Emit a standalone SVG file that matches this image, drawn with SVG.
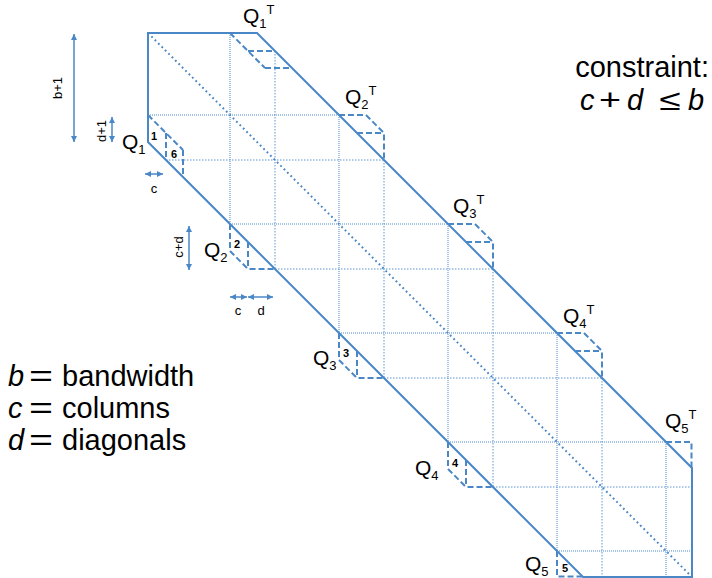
<svg xmlns="http://www.w3.org/2000/svg" width="712" height="578" viewBox="0 0 712 578">
<defs>
<marker id="ah" viewBox="0 0 6 6" refX="6" refY="3" markerWidth="6" markerHeight="6" markerUnits="userSpaceOnUse" orient="auto-start-reverse"><path d="M0,0 L6,3 L0,6 z" fill="#4a87c7"/></marker>
</defs>
<style>
.band{fill:none;stroke:#4a87c7;stroke-width:2;stroke-linejoin:miter}
.g1{fill:none;stroke:#a6c4e8;stroke-width:2;stroke-dasharray:1 1}
.g2{fill:none;stroke:#5d95d2;stroke-width:1;stroke-dasharray:1.5 1.5}
.diag{fill:none;stroke:#4a87c7;stroke-width:2;stroke-dasharray:1.8 3}
.q{fill:none;stroke:#4a87c7;stroke-width:2;stroke-dasharray:6 3}
.dim{fill:none;stroke:#4a87c7;stroke-width:1.5;marker-start:url(#ah);marker-end:url(#ah)}
.t{font-family:"Liberation Sans",Arial,sans-serif;fill:#000}
.ql{font-size:21px}
.sub{font-size:13px}
.num{font-size:11px;font-weight:bold}
.big{font-size:29px}
.sm{font-size:13px}
.it{font-style:italic}
</style>
<g id="grid">
<path class="g1" d="M230,33V224 M339,115V333 M448,224V442 M557,333V551 M666,442V577 M148,115H339 M230,224H448 M339,333H557 M448,442H666 M557,551H692"/>
<path class="g2" d="M275,51V269 M384,160V378 M493,269V487 M602,378V577 M166,160H384 M275,269H493 M384,378H602 M493,487H692"/>
</g>
<g id="band">
<path class="band" d="M148,33H257L692,468V577H583L148,142Z"/>
<path class="diag" d="M148,33L692,577"/>
</g>
<g id="Q1">
<path class="q" d="M148,115L183,150 M166,133V160 M183,150V177"/>
<text class="t num" x="151" y="140">1</text>
<text class="t num" x="171" y="158">6</text>
<text class="t ql" x="122" y="149">Q<tspan class="sub" dy="5">1</tspan></text>
</g>
<g id="Q2">
<path class="q" d="M230,224V251L248,269H275 M248,242V269"/>
<text class="t num" x="234" y="248">2</text>
<text class="t ql" x="204" y="257">Q<tspan class="sub" dy="5">2</tspan></text>
</g>
<g id="Q3">
<path class="q" d="M339,333V360L357,378H384 M357,351V378"/>
<text class="t num" x="343" y="357">3</text>
<text class="t ql" x="313" y="365">Q<tspan class="sub" dy="5">3</tspan></text>
</g>
<g id="Q4">
<path class="q" d="M448,442V469L466,487H493 M466,460V487"/>
<text class="t num" x="452" y="467">4</text>
<text class="t ql" x="415" y="475">Q<tspan class="sub" dy="5">4</tspan></text>
</g>
<g id="Q5">
<path class="q" d="M557,551V576.5H582"/>
<text class="t num" x="562" y="572">5</text>
<text class="t ql" x="525" y="571">Q<tspan class="sub" dy="5">5</tspan></text>
</g>
<g id="Q1T">
<path class="q" d="M230,33L265,68 M248,51H275 M265,68H292"/>
<text class="t ql" x="243" y="23">Q<tspan class="sub" dy="5">1</tspan><tspan class="sub" dy="-14">T</tspan></text>
</g>
<g id="Q2T">
<path class="q" d="M339,115H366L384,133V160 M357,133H384"/>
<text class="t ql" x="345" y="104">Q<tspan class="sub" dy="5">2</tspan><tspan class="sub" dy="-14">T</tspan></text>
</g>
<g id="Q3T">
<path class="q" d="M448,224H475L493,242V269 M466,242H493"/>
<text class="t ql" x="453" y="213">Q<tspan class="sub" dy="5">3</tspan><tspan class="sub" dy="-14">T</tspan></text>
</g>
<g id="Q4T">
<path class="q" d="M557,333H584L602,351V378 M575,351H602"/>
<text class="t ql" x="563" y="323">Q<tspan class="sub" dy="5">4</tspan><tspan class="sub" dy="-14">T</tspan></text>
</g>
<g id="Q5T">
<path class="q" d="M666,442H691.5V468"/>
<text class="t ql" x="665" y="428">Q<tspan class="sub" dy="5">5</tspan><tspan class="sub" dy="-14">T</tspan></text>
</g>
<g id="connectors">
<path class="dim" d="M74,34V142"/>
<path class="dim" d="M112,117V142"/>
<path class="dim" d="M145,174H163"/>
<path class="dim" d="M189,226V270"/>
<path class="dim" d="M230,297H247"/>
<path class="dim" d="M248,297H273"/>
</g>
<g id="dim-labels">
<text class="t sm" transform="translate(62,88) rotate(-90)" text-anchor="middle">b+1</text>
<text class="t sm" transform="translate(106,131) rotate(-90)" text-anchor="middle">d+1</text>
<text class="t sm" transform="translate(183,247) rotate(-90)" text-anchor="middle">c+d</text>
<text class="t sm" x="154" y="193" text-anchor="middle">c</text>
<text class="t sm" x="238" y="315" text-anchor="middle">c</text>
<text class="t sm" x="261" y="315" text-anchor="middle">d</text>
</g>
<g id="constraint">
<text class="t big" x="709" y="77" text-anchor="end">constraint:</text>
<text class="t big it" x="580" y="110">c</text>
<text class="t big" transform="translate(610,110) scale(1.3,1)" text-anchor="middle">+</text>
<text class="t big it" x="627" y="110">d</text>
<text class="t big" transform="translate(670,110) scale(1.35,1)" text-anchor="middle">≤</text>
<text class="t big it" x="688" y="110">b</text>
</g>
<g id="legend">
<text class="t big it" x="8" y="386">b</text>
<text class="t big" x="29" y="386" textLength="24" lengthAdjust="spacingAndGlyphs">=</text>
<text class="t big" x="62" y="386">bandwidth</text>
<text class="t big it" x="8" y="418">c</text>
<text class="t big" x="29" y="418" textLength="24" lengthAdjust="spacingAndGlyphs">=</text>
<text class="t big" x="62" y="418">columns</text>
<text class="t big it" x="8" y="450">d</text>
<text class="t big" x="29" y="450" textLength="24" lengthAdjust="spacingAndGlyphs">=</text>
<text class="t big" x="62" y="450">diagonals</text>
</g>
</svg>
